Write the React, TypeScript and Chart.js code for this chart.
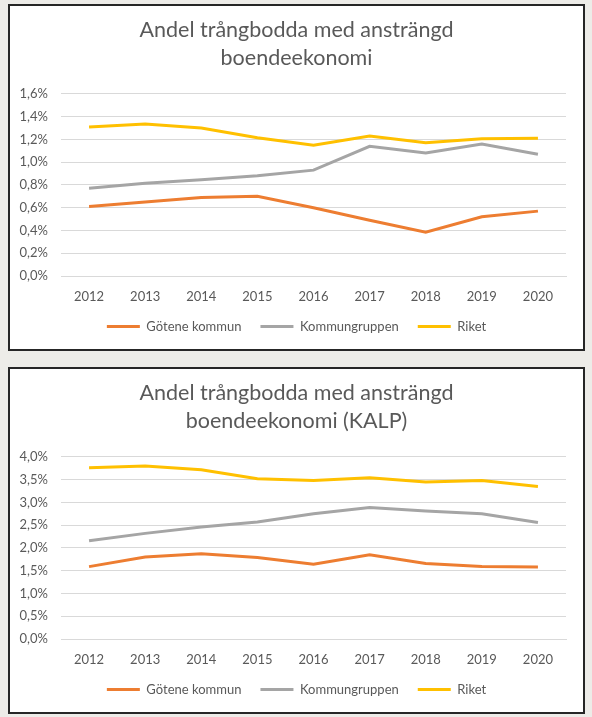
import { useEffect, useRef } from "react";
import { Chart } from "chart.js/auto";

const years = ["2012", "2013", "2014", "2015", "2016", "2017", "2018", "2019", "2020"];
const seriesNames = ["Götene kommun", "Kommungruppen", "Riket"];
const seriesColors = ["#ED7D31", "#A5A5A5", "#FFC000"];

// andel i procent
const gotene1 = [0.61, 0.65, 0.69, 0.7, 0.6, 0.49, 0.385, 0.52, 0.57];
const kommungrupp1 = [0.77, 0.815, 0.845, 0.88, 0.93, 1.14, 1.08, 1.16, 1.07];
const riket1 = [1.31, 1.335, 1.3, 1.215, 1.15, 1.23, 1.17, 1.205, 1.21];

const gotene2 = [1.59, 1.8, 1.87, 1.79, 1.64, 1.85, 1.66, 1.59, 1.58];
const kommungrupp2 = [2.16, 2.32, 2.46, 2.57, 2.75, 2.89, 2.81, 2.75, 2.56];
const riket2 = [3.76, 3.8, 3.72, 3.52, 3.48, 3.54, 3.45, 3.48, 3.35];

const title1 = ["Andel trångbodda med ansträngd", "boendeekonomi"];
const title2 = ["Andel trångbodda med ansträngd", "boendeekonomi (KALP)"];

const FONT = "Lato, 'Open Sans', sans-serif";
const TEXT = "#595959";

type Props = {
  title: string[];
  values: number[][];
  yMax: number;
  yStep: number;
};

const LineChart = ({ title, values, yMax, yStep }: Props) => {
  const chartRef = useRef<Chart | null>(null);
  const canvasRef = useRef<HTMLCanvasElement | null>(null);

  useEffect(() => {
    if (!canvasRef.current) return;
    chartRef.current?.destroy();

    chartRef.current = new Chart(canvasRef.current, {
      type: "line",
      data: {
        labels: years,
        datasets: values.map((v, i) => ({
          label: seriesNames[i],
          data: v,
          borderColor: seriesColors[i],
          backgroundColor: seriesColors[i],
          borderWidth: 3,
          pointRadius: 0,
          tension: 0,
        })),
      },
      options: {
        responsive: false,
        animation: false,
        layout: { padding: { left: 0, right: 0, top: 0, bottom: 6 } },
        plugins: {
          tooltip: { enabled: false },
          title: {
            display: true,
            text: title,
            color: TEXT,
            font: { family: FONT, size: 21.5, weight: "normal", lineHeight: 1.3 },
            padding: { top: 10, bottom: 22 },
          },
          legend: {
            position: "bottom",
            maxHeight: 50,
            labels: {
              usePointStyle: true,
              pointStyle: "line",
              pointStyleWidth: 33,
              padding: 19,
              color: TEXT,
              font: { family: FONT, size: 13 },
            },
          },
        },
        scales: {
          x: {
            offset: true,
            grid: { display: false, drawTicks: false },
            border: { display: true, color: "#d9d9d9" },
            ticks: { color: TEXT, font: { family: FONT, size: 13 }, padding: 13 },
            afterFit: (scale) => {
              scale.height = 25;
            },
          },
          y: {
            min: 0,
            max: yMax,
            grid: { color: "#d9d9d9", drawTicks: false },
            border: { display: false },
            ticks: {
              stepSize: yStep,
              color: TEXT,
              font: { family: FONT, size: 13 },
              padding: 13,
              callback: (v) => Number(v).toFixed(1).replace(".", ",") + "%",
            },
            afterFit: (scale) => {
              scale.width = 51;
            },
          },
          // empty right-hand margin so the title and legend sit centred in the box
          yRight: {
            axis: "y",
            position: "right",
            min: 0,
            max: yMax,
            grid: { display: false, drawTicks: false },
            border: { display: false },
            ticks: { display: false },
            afterFit: (scale) => {
              scale.width = 17;
            },
          },
        },
      },
    });

    return () => {
      chartRef.current?.destroy();
      chartRef.current = null;
    };
  }, [title, values, yMax, yStep]);

  return <canvas ref={canvasRef} width={573} height={343} style={{ display: "block" }}></canvas>;
};

const boxStyle = (top: number): React.CSSProperties => ({
  position: "absolute",
  left: 8,
  top,
  width: 577,
  height: 347,
  boxSizing: "border-box",
  border: "2px solid #262626",
  background: "#ffffff",
});

const App = () => {
  useEffect(() => {
    document.body.style.margin = "0";
  }, []);

  return (
    <div style={{ position: "relative", width: 592, height: 717, background: "#edece8" }}>
      <div style={boxStyle(4)}>
        <LineChart title={title1} values={[gotene1, kommungrupp1, riket1]} yMax={1.6} yStep={0.2} />
      </div>
      <div style={boxStyle(367)}>
        <LineChart title={title2} values={[gotene2, kommungrupp2, riket2]} yMax={4.0} yStep={0.5} />
      </div>
    </div>
  );
};

export default App;
